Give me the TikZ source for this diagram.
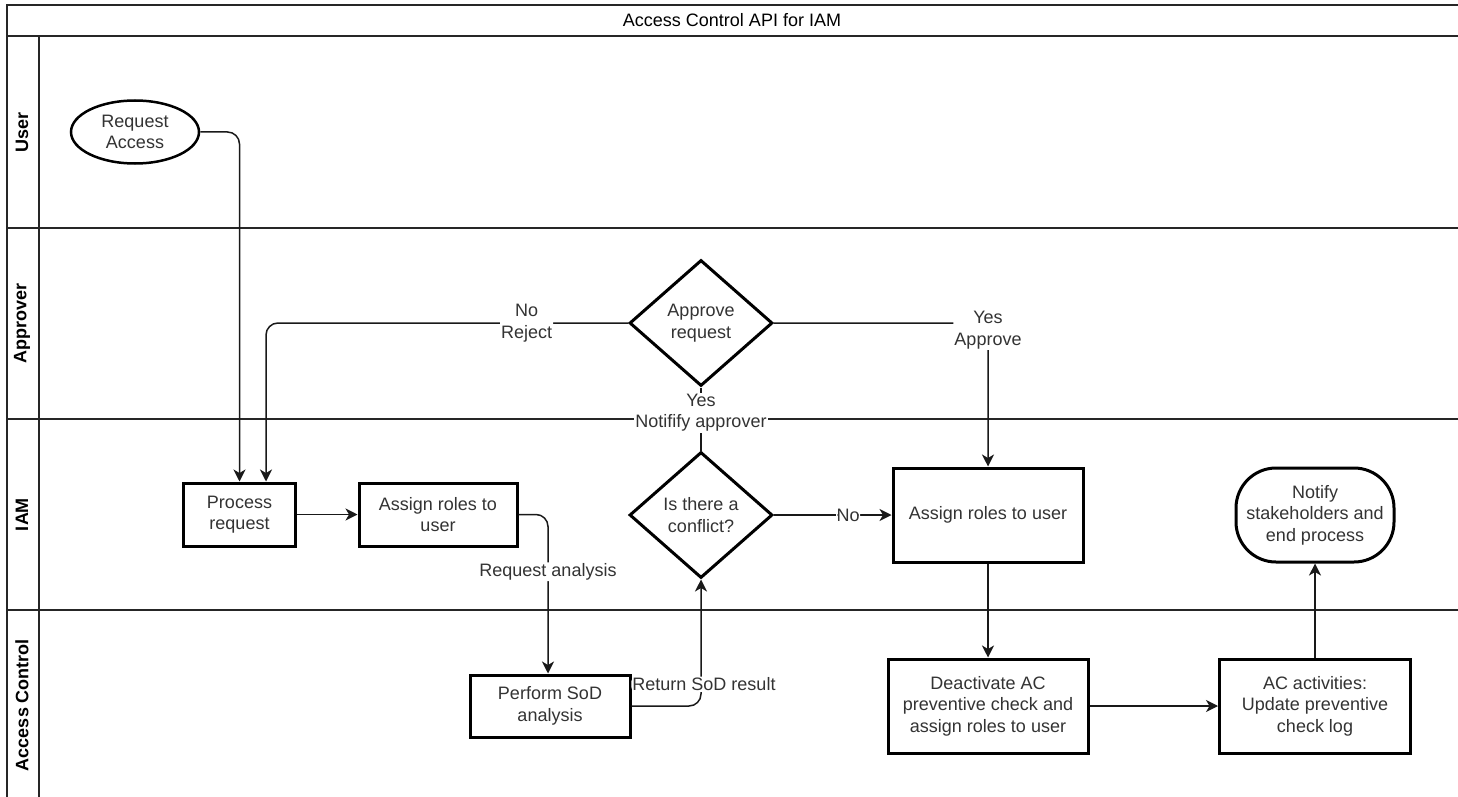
\documentclass[tikz,border=0pt]{standalone}
\usepackage{fontspec}
\setmainfont{Liberation Sans}
\usetikzlibrary{shapes.geometric,arrows.meta}

\begin{document}
\begin{tikzpicture}[x=1pt,y=-1pt,
  every node/.style={font=\fontsize{18}{21.6}\selectfont, text=black!80},
  lane/.style={line width=1.5pt, draw=black!85},
  stepbox/.style={draw=black, line width=3pt, fill=white, align=center, inner sep=0pt},
  startnode/.style={ellipse, draw=black, line width=2.5pt, fill=white, align=center, inner sep=0pt},
  decision/.style={diamond, draw=black, line width=3pt, fill=white, align=center, inner sep=0pt,
    minimum width=143pt, minimum height=126pt, aspect=1.13},
  flow/.style={line width=1.5pt, draw=black!90, rounded corners=12pt,
    -{Stealth[length=12pt,width=12pt,inset=3.5pt]}},
  plainflow/.style={line width=1.5pt, draw=black!90},
  lbl/.style={fill=white, inner sep=1pt, align=center},
  lanetitle/.style={rotate=90, font=\bfseries\fontsize{18}{21.6}\selectfont, text=black}
]
\useasboundingbox (0,0) rectangle (1458,797);

% pool frame, title row and lane dividers
\draw[lane] (7,797) -- (7,5) -- (1458,5);
\draw[lane] (7,36) -- (1458,36);
\draw[lane] (39,36) -- (39,797);
\foreach \yy in {228,419,610} \draw[lane] (7,\yy) -- (1458,\yy);

\node[text=black] (title) at (732,20.5) {Access Control API for IAM};
\node[lanetitle] (laneuser) at (22,132) {User};
\node[lanetitle] (laneapprover) at (22,323.5) {Approver};
\node[lanetitle] (laneiam) at (22,514.5) {IAM};
\node[lanetitle] (laneac) at (22,705) {Access Control};

% process steps
\node[startnode, minimum width=128pt, minimum height=63pt] (req) at (135,132) {Request\\Access};
\node[stepbox, minimum width=112pt, minimum height=63pt] (proc) at (239.5,514.5) {Process\\request};
\node[stepbox, minimum width=158pt, minimum height=63pt] (assign1) at (438,514.5) {Assign roles to\\user};
\node[decision] (approve) at (701,323) {Approve\\request};
\node[decision] (conflict) at (701,515) {Is there a\\conflict?};
\node[stepbox, minimum width=190pt, minimum height=94pt] (assign2) at (988,515) {Assign roles to user};
\node[stepbox, rounded corners=40pt, minimum width=158pt, minimum height=94pt] (notify) at (1315,515) {Notify\\stakeholders and\\end process};
\node[stepbox, minimum width=160pt, minimum height=62pt] (sod) at (550,706) {Perform SoD\\analysis};
\node[stepbox, minimum width=200pt, minimum height=94pt] (deact) at (988,706) {Deactivate AC\\preventive check and\\assign roles to user};
\node[stepbox, minimum width=191pt, minimum height=94pt] (acact) at (1315,706) {AC activities:\\Update preventive\\check log};

% connectors
\draw[flow] (req.east) -| (proc.north);
\draw[flow] (approve.west) -| node[lbl, pos=0.14] {No\\Reject} ([xshift=26.5pt]proc.north);
\draw[flow] (approve.east) -| node[lbl, pos=0.5, yshift=-7pt] {Yes\\Approve} (assign2.north);
\draw[flow] (proc) -- (assign1);
\draw[flow] ([yshift=0pt]assign1.east) -| node[lbl, pos=0.68] {Request analysis} ([xshift=-2pt]sod.north);
\draw[flow] (sod.east) -| node[lbl, pos=0.586, xshift=3pt] {Return SoD result} (conflict.south);
\draw[plainflow] (conflict.north) -- node[lbl, pos=0.6] {Yes\\Notifify approver} (approve.south);
\draw[flow] (conflict.east) -- node[lbl, pos=0.63, inner sep=0.5pt] {No} (assign2.west);
\draw[flow] (assign2) -- (deact);
\draw[flow] (deact) -- (acact);
\draw[flow] (acact) -- (notify);
\end{tikzpicture}
\end{document}
